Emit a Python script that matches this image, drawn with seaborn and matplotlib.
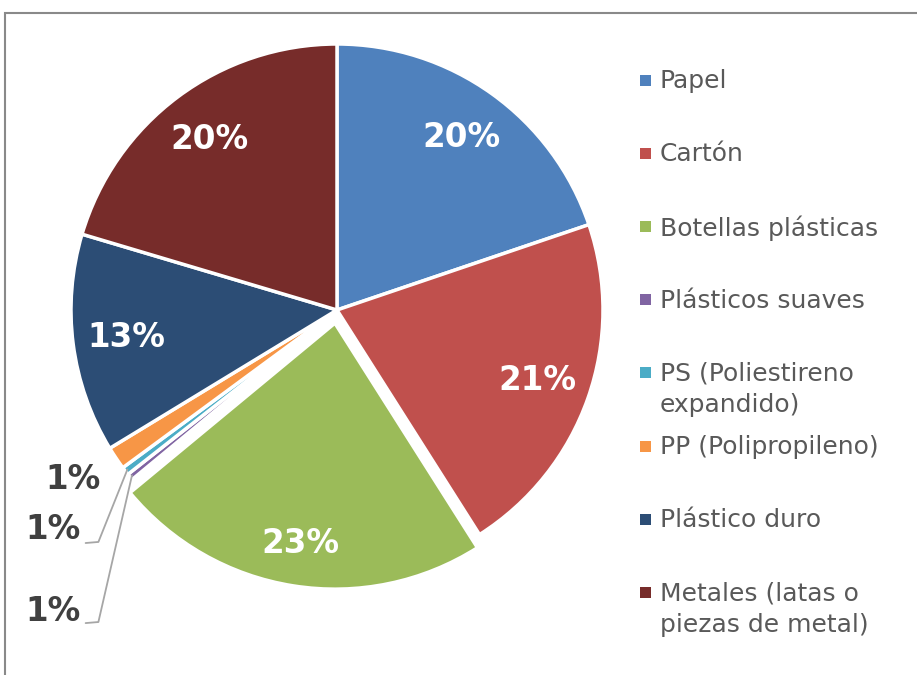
import matplotlib
matplotlib.use("Agg")
import matplotlib.pyplot as plt
from matplotlib.patches import Rectangle
import numpy as np
import seaborn as sns

# data (share of total, %)
categorias = ["Papel", "Cartón", "Botellas plásticas", "Plásticos suaves",
              "PS (Poliestireno\nexpandido)", "PP (Polipropileno)",
              "Plástico duro", "Metales (latas o\npiezas de metal)"]
porcentajes = [19.8, 21.2, 23.0, 0.4, 0.5, 1.4, 13.3, 20.4]
etiquetas = ["20%", "21%", "23%", "1%", "1%", "1%", "13%", "20%"]
colores = ["#4F81BD", "#C0504D", "#9BBB59", "#8064A2",
           "#4BACC6", "#F79646", "#2C4D75", "#772C2A"]
separacion = [0, 0, 0.05, 0, 0, 0, 0, 0]

sns.set_theme(style="white")
plt.rcParams['font.family'] = ['DejaVu Sans']
palette = sns.color_palette(colores)

fig = plt.figure(figsize=(9.17, 6.75), dpi=100)

# pie centre ~ (337, 310) px, radius ~266 px
r_px = 266
ax = fig.add_axes([(337 - r_px) / 917, (675 - 310 - r_px) / 675,
                   2 * r_px / 917, 2 * r_px / 675])
wedges, _ = ax.pie(porcentajes, colors=palette, startangle=90, counterclock=False,
                   explode=separacion, radius=1,
                   wedgeprops=dict(edgecolor="white", linewidth=2.5))
ax.set_xlim(-1, 1)
ax.set_ylim(-1, 1)
ax.set_aspect("equal")
ax.axis("off")

tam = 23.5

# labels inside the big slices
for w, lab, p, sep in zip(wedges, etiquetas, porcentajes, separacion):
    if p < 5:
        continue
    ang = np.deg2rad((w.theta1 + w.theta2) / 2)
    cx, cy = w.center
    d = 0.8 + 0.8 * sep
    ax.text(cx + d * np.cos(ang), cy + d * np.sin(ang), lab,
            ha="center", va="center", color="white",
            fontsize=tam, fontweight="bold")

# small slices: outside labels with leader lines
gris = "#404040"
ax.text(-0.89, -0.639, etiquetas[5], ha="right", va="center",
        color=gris, fontsize=tam, fontweight="bold")
ax.text(-0.965, -0.827, etiquetas[4], ha="right", va="center",
        color=gris, fontsize=tam, fontweight="bold")
ax.text(-0.965, -1.135, etiquetas[3], ha="right", va="center",
        color=gris, fontsize=tam, fontweight="bold")

for idx, codo_y in [(4, -0.872), (3, -1.173)]:
    w = wedges[idx]
    ang = np.deg2rad((w.theta1 + w.theta2) / 2)
    x0, y0 = 0.99 * np.cos(ang), 0.99 * np.sin(ang)
    ax.plot([x0, -0.897, -0.945], [y0, codo_y, codo_y - 0.004],
            color="#A6A6A6", linewidth=1.3, clip_on=False)

# legend drawn by hand to mimic the wrapped entries
texto_gris = "#595959"
for i, (cat, col) in enumerate(zip(categorias, palette)):
    y_px = 80 + 73.2 * i
    fy = 1 - y_px / 675
    fig.add_artist(Rectangle((640 / 917, fy - 5.5 / 675), 11 / 917, 11 / 675,
                             transform=fig.transFigure, color=col, lw=0))
    fig.text(660 / 917, 1 - (y_px - 11) / 675, cat, ha="left", va="top",
             fontsize=18, color=texto_gris, linespacing=1.4)

# outer frame (only top and left visible)
fig.add_artist(Rectangle((5 / 917, -0.1), 1.2, 1.1 - 12.5 / 675,
                         transform=fig.transFigure, fill=False,
                         edgecolor="#898989", linewidth=1.5))

plt.savefig("out.png", dpi=100)
